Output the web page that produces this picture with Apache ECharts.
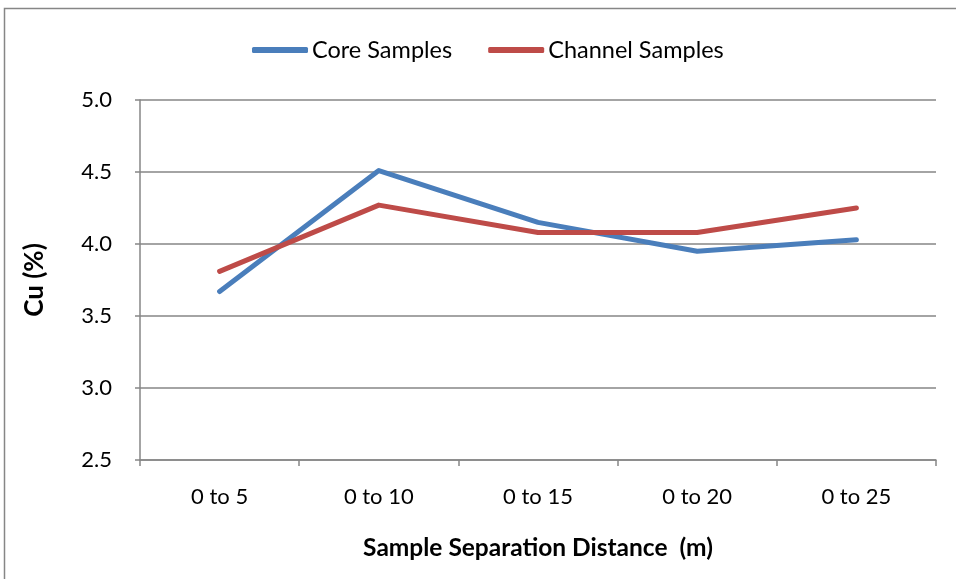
<!DOCTYPE html>
<html><head><meta charset="utf-8">
<script src="https://cdn.jsdelivr.net/npm/echarts@6/dist/echarts.min.js"></script>
<style>html,body{margin:0;padding:0;background:#fff}#c{width:956px;height:579px}</style>
</head><body><div id="c"></div>
<script>
const categories = ['0 to 5', '0 to 10', '0 to 15', '0 to 20', '0 to 25'];
const coreSamples = [3.67, 4.51, 4.15, 3.95, 4.03];
const channelSamples = [3.81, 4.27, 4.08, 4.08, 4.25];
const seriesNames = ['Core Samples', 'Channel Samples'];
const FONT = 'Lato';
const chart = echarts.init(document.getElementById('c'));
chart.setOption({
  animation: false,
  backgroundColor: '#fff',
  graphic: [{type:'rect', shape:{x:4.5,y:8.5,width:1100,height:1100}, style:{fill:'none', stroke:'#868686', lineWidth:1.5}, silent:true}],
  legend: {
    top: 33, left: 247, itemWidth: 56, itemHeight: 6, itemGap: 36,
    icon: 'roundRect',
    textStyle: {fontFamily: FONT, fontSize: 23.5, color: '#000', padding: [0,0,0,-1]},
    data: seriesNames
  },
  grid: {left: 140, right: 20, top: 100, bottom: 119},
  xAxis: {
    type: 'category', data: categories, boundaryGap: true,
    axisLine: {lineStyle: {color: '#868686', width: 1.5}},
    axisTick: {show: true, length: 6, lineStyle: {color: '#868686', width: 1.5}},
    axisLabel: {fontFamily: FONT, fontSize: 22, color: '#000', margin: 26},
    name: 'Sample Separation Distance  (m)', nameLocation: 'middle', nameGap: 76,
    nameTextStyle: {fontFamily: FONT, fontSize: 24.5, fontWeight: 'bold', color: '#000'}
  },
  yAxis: {
    type: 'value', min: 2.5, max: 5.0, interval: 0.5,
    axisLine: {show: true, lineStyle: {color: '#868686', width: 1.5}},
    axisTick: {show: true, length: 5, lineStyle: {color: '#868686', width: 1.5}},
    splitLine: {lineStyle: {color: '#868686', width: 1.5}},
    axisLabel: {fontFamily: FONT, fontSize: 22, color: '#000', margin: 28, formatter: v => v.toFixed(1)},
    name: 'Cu (%)', nameLocation: 'middle', nameGap: 92, nameRotate: 90,
    nameTextStyle: {fontFamily: FONT, fontSize: 26, fontWeight: 'bold', color: '#000'}
  },
  series: [
    {name: seriesNames[0], type: 'line', data: coreSamples, symbol: 'none', color: '#4A7EBB',
     lineStyle: {width: 5, cap: 'round', join: 'round'}},
    {name: seriesNames[1], type: 'line', data: channelSamples, symbol: 'none', color: '#BE4B48',
     lineStyle: {width: 5, cap: 'round', join: 'round'}}
  ]
});
</script></body></html>
